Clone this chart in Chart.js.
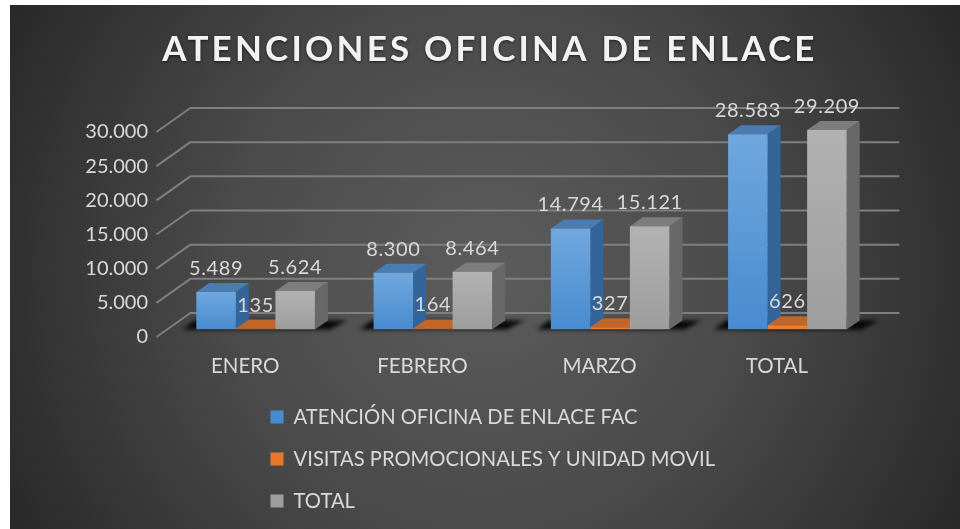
<!DOCTYPE html>
<html lang="es">
<head>
<meta charset="utf-8">
<title>Atenciones Oficina de Enlace</title>
<style>html,body{margin:0;padding:0;background:#fff}canvas{display:block}</style>
<script src="https://cdn.jsdelivr.net/npm/chart.js@4"></script>
</head>
<body>
<canvas id="c" width="960" height="529"></canvas>
<script>
const categories = ['ENERO', 'FEBRERO', 'MARZO', 'TOTAL'];
const seriesNames = ['ATENCIÓN OFICINA DE ENLACE FAC', 'VISITAS PROMOCIONALES Y UNIDAD MOVIL', 'TOTAL'];
const atencion = [5489, 8300, 14794, 28583];
const visitas = [135, 164, 327, 626];
const totales = [5624, 8464, 15121, 29209];
const titleText = 'ATENCIONES OFICINA DE ENLACE';

const FONT = 'Lato, Carlito, sans-serif';
const TEXT = '#d9d9d9';
const BAR_D = {x: 13, y: 9};          // bar depth
const BACK = {x: 23.4, y: 16.5};      // bar plane -> back wall
const FRONT = {x: -10.6, y: 7.5};     // bar plane -> floor front edge
const palette = [
  {top: '#70a7de', bottom: '#488bcf', solid: '#5b9bd5', side: '#33659b', cap: '#4a7cb2'},
  {top: '#f0853a', bottom: '#e8772b', solid: '#ed7d31', side: '#a9561f', cap: '#c0662a'},
  {top: '#b2b2b2', bottom: '#9d9d9d', solid: '#a5a5a5', side: '#686868', cap: '#7d7d7d'}
];
const fmt = v => String(v).replace(/\B(?=(\d{3})+$)/g, '.');

function fillFor(i) {
  return c => {
    const p = palette[i];
    if (c.raw === undefined || !c.chart.scales.y) return p.solid;
    const y = c.chart.scales.y;
    const y0 = y.getPixelForValue(c.raw), y1 = y.getPixelForValue(0);
    if (!isFinite(y0) || !isFinite(y1)) return p.solid;
    const g = c.chart.ctx.createLinearGradient(0, y0, 0, y1);
    g.addColorStop(0, p.top);
    g.addColorStop(1, p.bottom);
    return g;
  };
}

function poly(ctx, pts, fill) {
  ctx.beginPath();
  pts.forEach((p, i) => i ? ctx.lineTo(p[0], p[1]) : ctx.moveTo(p[0], p[1]));
  ctx.closePath();
  ctx.fillStyle = fill;
  ctx.fill();
}

const scene = {
  id: 'scene',
  afterLayout(chart) {
    const lg = chart.legend;
    const pad = lg.options.labels.padding;
    lg.left = 270.5 - pad;
    lg.right = lg.left + 480;
    lg.top = 406.9 - pad;
    lg.bottom = lg.top + 205;
    const t = chart.titleBlock;
    t.left = 104;
    t.right = 876;
    if (!t._spaced) {
      const draw = t.draw;
      t.draw = function () {
        const ctx = chart.ctx;
        ctx.save();
        ctx.letterSpacing = '3.2px';
        ctx.shadowColor = 'rgba(0,0,0,0.6)';
        ctx.shadowBlur = 3;
        ctx.shadowOffsetY = 1;
        draw.call(this);
        ctx.restore();
      };
      t._spaced = true;
    }
  },
  beforeDraw(chart) {
    const ctx = chart.ctx;
    const g = ctx.createRadialGradient(485, 270, 20, 485, 270, 560);
    g.addColorStop(0, '#5b5b5b');
    g.addColorStop(0.45, '#4a4a4a');
    g.addColorStop(1, '#262626');
    ctx.save();
    ctx.fillStyle = '#ffffff';
    ctx.fillRect(0, 0, 960, 529);
    ctx.fillStyle = g;
    ctx.fillRect(10, 5, 950, 524);
    ctx.restore();
  },
  beforeDatasetsDraw(chart) {
    const ctx = chart.ctx, {x: xs, y: ys} = chart.scales;
    ctx.save();
    ctx.strokeStyle = '#7f7f7f';
    ctx.lineWidth = 2;
    ctx.lineJoin = 'round';
    ys.ticks.forEach(t => {
      const y = ys.getPixelForValue(t.value);
      ctx.beginPath();
      ctx.moveTo(xs.left + FRONT.x, y + FRONT.y);
      ctx.lineTo(xs.left + BACK.x, y - BACK.y);
      ctx.lineTo(xs.right + BACK.x, y - BACK.y);
      ctx.stroke();
    });
    // floor shadow under each group
    const first = chart.getDatasetMeta(0).data, last = chart.getDatasetMeta(2).data;
    ctx.save();
    ctx.filter = 'blur(2px)';
    first.forEach((el, i) => {
      const r = last[i], base = el.base, l = el.x - el.width / 2, rr = r.x + r.width / 2;
      poly(ctx, [[l - 14, base], [l - 2, base - BAR_D.y], [rr + 32, base - BAR_D.y], [rr + 15, base]], 'rgba(0,0,0,0.9)');
    });
    ctx.restore();
    // depth faces, back to front; the library then paints the front faces over them
    [0, 1, 2].forEach(i => {
      const p = palette[i];
      chart.getDatasetMeta(i).data.forEach(el => {
        const l = el.x - el.width / 2, r = el.x + el.width / 2, t = el.y, b = el.base;
        poly(ctx, [[r, t], [r + BAR_D.x, t - BAR_D.y], [r + BAR_D.x, b - BAR_D.y], [r, b]], p.side);
        poly(ctx, [[l, t], [l + BAR_D.x, t - BAR_D.y], [r + BAR_D.x, t - BAR_D.y], [r, t]], p.cap);
      });
    });
    ctx.restore();
  },
  afterDraw(chart) {
    const ctx = chart.ctx;
    ctx.save();
    ctx.font = '20px ' + FONT;
    ctx.fillStyle = TEXT;
    ctx.textAlign = 'center';
    ctx.textBaseline = 'middle';
    ctx.letterSpacing = '0.6px';
    [0, 1, 2].forEach(i => {
      const ds = chart.data.datasets[i];
      chart.getDatasetMeta(i).data.forEach((el, j) => {
        ctx.fillText(fmt(ds.data[j]), el.x, el.y - 23.5);
      });
    });
    ctx.restore();
  }
};

const seriesValues = [atencion, visitas, totales];
new Chart(document.getElementById('c'), {
  type: 'bar',
  data: {
    labels: categories,
    datasets: seriesNames.map((name, i) => ({
      label: name,
      data: seriesValues[i],
      backgroundColor: fillFor(i),
      borderWidth: 0,
      categoryPercentage: 0.669,
      barPercentage: 1
    }))
  },
  plugins: [scene],
  options: {
    responsive: false,
    animation: false,
    events: [],
    layout: {padding: {left: 20, right: 84, top: 0, bottom: 139.5}},
    plugins: {
      tooltip: {enabled: false},
      title: {
        display: true,
        text: titleText,
        color: '#f2f2f2',
        font: {family: FONT, size: 35, weight: 'bold', lineHeight: 1.2},
        padding: {top: 28.5, bottom: 54}
      },
      legend: {
        position: 'chartArea',
        align: 'start',
        labels: {
          color: TEXT,
          font: {family: FONT, size: 20.2, lineHeight: 1.2},
          boxWidth: 13,
          boxHeight: 13,
          padding: 21.8
        }
      }
    },
    scales: {
      x: {
        grid: {display: false, drawTicks: false},
        border: {display: false},
        afterFit: s => { s.height = 60; },
        ticks: {color: TEXT, font: {family: FONT, size: 20.5}, padding: 24.5, labelOffset: -10.5, maxRotation: 0}
      },
      y: {
        min: 0,
        max: 30000,
        grid: {display: false, drawTicks: false},
        border: {display: false},
        afterFit: s => { s.width = 147; },
        ticks: {
          stepSize: 5000,
          color: TEXT,
          font: {family: FONT, size: 20},
          padding: 19,
          labelOffset: 7.5,
          callback: v => fmt(v)
        }
      }
    }
  }
});
</script>
</body>
</html>
